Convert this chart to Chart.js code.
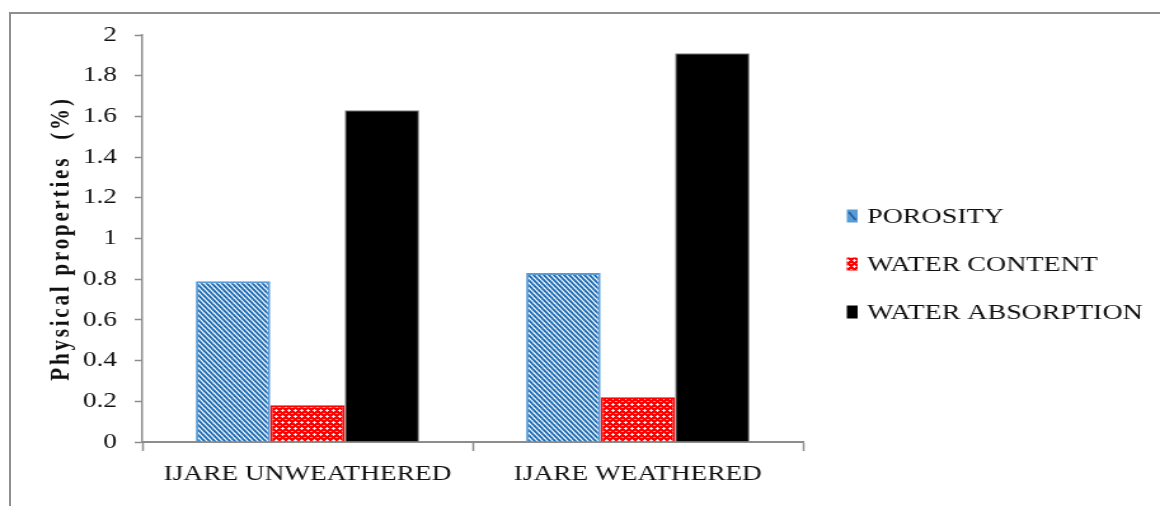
<!DOCTYPE html>
<html>
<head>
<meta charset="utf-8">
<script src="https://cdn.jsdelivr.net/npm/chart.js@4/dist/chart.umd.min.js"></script>
<style>
  html, body { margin: 0; padding: 0; background: #ffffff; }
  #wrap { position: relative; width: 1160px; height: 506px; overflow: hidden; }
  #frame { position: absolute; left: 9px; top: 12px; width: 1200px; height: 600px;
           border-left: 2px solid #8e8e8e; border-top: 2px solid #8e8e8e; }
  #c { position: absolute; left: 0; top: 0; width: 1160px; height: 506px; }
</style>
</head>
<body>
<div id="wrap">
  <div id="frame"></div>
  <!-- drawn at a narrower width and widened by CSS, giving the broad serif lettering -->
  <canvas id="c" width="913" height="506" style="width:1160px;height:506px"></canvas>
</div>
<script>
// Categories and measured values (%)
const categories = ['IJARE UNWEATHERED', 'IJARE WEATHERED'];
const porosity = [0.79, 0.83];
const waterContent = [0.18, 0.22];
const waterAbsorption = [1.63, 1.91];
const seriesNames = ['POROSITY', 'WATER CONTENT', 'WATER ABSORPTION'];
const yTickValues = [0, 0.2, 0.4, 0.6, 0.8, 1, 1.2, 1.4, 1.6, 1.8, 2];
const yTickLabels = ['0', '0.2', '0.4', '0.6', '0.8', '1', '1.2', '1.4', '1.6', '1.8', '2'];
const yTitle = 'Physical properties  (%)';

const SERIF = "'Liberation Serif', 'Times New Roman', serif";
const TEXT = '#111111';

// Diagonal blue hatching
function stripePattern() {
  const w = 4, h = 5;
  const c = document.createElement('canvas');
  c.width = w; c.height = h;
  const g = c.getContext('2d');
  g.fillStyle = '#ffffff';
  g.fillRect(0, 0, w, h);
  g.strokeStyle = '#1f6db5';
  g.lineWidth = 2.0;
  for (const o of [-w, 0, w]) {
    g.beginPath();
    g.moveTo(o - w, -h);
    g.lineTo(o + 2 * w, 2 * h);
    g.stroke();
  }
  return g.createPattern(c, 'repeat');
}

// Red fill with small white crosses
function crossPattern() {
  const w = 5, h = 6;
  const c = document.createElement('canvas');
  c.width = w; c.height = h;
  const g = c.getContext('2d');
  g.fillStyle = '#ff0000';
  g.fillRect(0, 0, w, h);
  g.fillStyle = 'rgba(255,255,255,0.85)';
  g.fillRect(2, 1, 1, 3);
  g.fillRect(1, 2, 3, 1);
  g.fillStyle = 'rgba(255,255,255,0.6)';
  g.fillRect(0, 5, 1, 1);
  g.fillRect(4, 5, 1, 1);
  return g.createPattern(c, 'repeat');
}

const fills = [stripePattern(), crossPattern(), '#000000'];
const borders = ['#5b9bd5', '#ff0000', '#7f7f7f'];
const borderWidths = [2, 1.8, 1];
const seriesValues = [porosity, waterContent, waterAbsorption];

// Legend drawn to the right of the plot, one row per dataset
const sideLegend = {
  id: 'sideLegend',
  afterDraw(chart) {
    const ctx = chart.ctx;
    const x0 = 666.5, textX = 682.5, rowY = [216, 264, 312];
    ctx.save();
    chart.data.datasets.forEach((ds, i) => {
      const y = rowY[i];
      if (i === 0) {
        ctx.fillStyle = '#5b9bd5';
        ctx.fillRect(x0, y - 6.5, 8.5, 13);
        ctx.strokeStyle = '#1f5f9e';
        ctx.lineWidth = 1.6;
        ctx.beginPath();
        ctx.moveTo(x0 + 1.5, y - 4);
        ctx.lineTo(x0 + 7, y + 4);
        ctx.stroke();
      } else {
        ctx.fillStyle = ds.backgroundColor;
        ctx.fillRect(x0, y - 6.5, 8.5, 13);
      }
      ctx.fillStyle = TEXT;
      ctx.font = '22px ' + SERIF;
      ctx.textAlign = 'left';
      ctx.textBaseline = 'middle';
      ctx.fillText(ds.label, textX, y + 1);
    });
    ctx.restore();
  }
};

new Chart(document.getElementById('c'), {
  type: 'bar',
  data: {
    labels: categories,
    datasets: seriesNames.map((name, i) => ({
      label: name,
      data: seriesValues[i],
      backgroundColor: fills[i],
      borderColor: borders[i],
      borderWidth: borderWidths[i],
      borderSkipped: 'bottom',
      categoryPercentage: 0.676,
      barPercentage: 1.0
    }))
  },
  options: {
    responsive: false,
    animation: false,
    devicePixelRatio: 1,
    layout: { padding: { left: 0, top: 35, right: 281, bottom: 0 } },
    plugins: {
      legend: { display: false },
      tooltip: { enabled: false }
    },
    scales: {
      x: {
        afterFit(scale) { scale.height = 64; },
        grid: {
          drawOnChartArea: false,
          drawTicks: true,
          tickLength: 9,
          tickColor: '#8c8c8c',
          tickWidth: 1.5,
          offset: true
        },
        border: { display: true, color: '#8c8c8c', width: 2 },
        ticks: {
          color: TEXT,
          padding: 10,
          font: { family: SERIF, size: 21.5 },
          maxRotation: 0
        }
      },
      y: {
        min: 0,
        max: 2,
        afterFit(scale) { scale.width = 112; },
        afterBuildTicks(scale) { scale.ticks = yTickValues.map(v => ({ value: v })); },
        afterUpdate(scale) {
          // the axis title is set with wider letter spacing
          if (!scale._spacedTitle) {
            const drawTitle = scale.drawTitle.bind(scale);
            scale.drawTitle = function () {
              const ctx = this.ctx;
              ctx.save();
              ctx.letterSpacing = '2.8px';
              drawTitle();
              ctx.restore();
            };
            scale._spacedTitle = true;
          }
        },
        grid: {
          drawOnChartArea: false,
          drawTicks: true,
          tickLength: 6,
          tickColor: '#8c8c8c',
          tickWidth: 1.5
        },
        border: { display: true, color: '#8c8c8c', width: 1.5 },
        ticks: {
          color: TEXT,
          padding: 14,
          font: { family: SERIF, size: 21.5 },
          callback(value) {
            const k = yTickValues.findIndex(v => Math.abs(v - value) < 1e-9);
            return k >= 0 ? yTickLabels[k] : '';
          }
        },
        title: {
          display: true,
          text: yTitle,
          color: TEXT,
          font: { family: SERIF, size: 21, weight: 'bold' },
          padding: { top: 36, bottom: 0 }
        }
      }
    }
  },
  plugins: [sideLegend]
});
</script>
</body>
</html>
